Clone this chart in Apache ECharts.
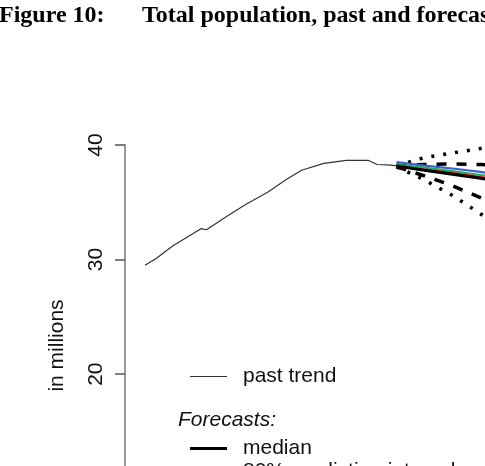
<!DOCTYPE html>
<html>
<head>
<meta charset="utf-8" />
<title>Total population, past and forecast</title>
<script src="https://cdn.jsdelivr.net/npm/echarts@6/dist/echarts.min.js"></script>
<style>
  html, body { margin: 0; padding: 0; background: #fff; }
  #main { width: 485px; height: 466px; }
</style>
</head>
<body>
<div id="main"></div>
<script type="text/javascript">
// past trend (millions)
var pastYears = [1960, 1962, 1965, 1967, 1970, 1971, 1975, 1978, 1982, 1985, 1988, 1992, 1996, 2000, 2001.5, 2004, 2005];
var pastValues = [29.5, 30.1, 31.2, 31.8, 32.7, 32.6, 33.9, 34.8, 35.9, 36.9, 37.8, 38.4, 38.65, 38.65, 38.3, 38.25, 38.17];

// forecasts
var fcYears = [2005, 2010, 2015, 2020, 2025];
var medianValues = [38.17, 37.8, 37.45, 37.1, 36.7];
var blueValues = [38.5, 38.2, 37.95, 37.65, 37.3];
var greenValues = [38.3, 38.02, 37.72, 37.38, 37.0];
var redValues = [38.1, 37.85, 37.55, 37.2, 36.8];
var pi80Upper = [38.2, 38.3, 38.35, 38.3, 38.2];
var pi80Lower = [38.1, 37.3, 36.45, 35.4, 34.2];
var pi95Upper = [38.2, 38.9, 39.3, 39.7, 40.0];
var pi95Lower = [38.1, 36.95, 35.6, 34.0, 32.3];

var yTicks = [10, 20, 30, 40];

function pairs(xs, ys) {
    return xs.map(function (x, i) { return [x, ys[i]]; });
}

var myChart = echarts.init(document.getElementById('main'));

function lineSeries(name, xs, ys, color, width, type) {
    return {
        name: name,
        type: 'line',
        data: pairs(xs, ys),
        symbol: 'none',
        clip: false,
        silent: true,
        lineStyle: { color: color, width: width, type: type || 'solid', cap: 'butt' },
        itemStyle: { color: color }
    };
}

var legendText = { fontFamily: 'Liberation Sans', fontSize: 21, color: '#111', padding: [0, 0, 0, 11] };

var option = {
    animation: false,
    backgroundColor: '#fff',
    title: [
        {
            text: 'Figure 10:',
            left: -1, top: 4, padding: 0,
            textStyle: { fontFamily: 'Liberation Serif', fontWeight: 'bold', fontSize: 24, color: '#000', lineHeight: 24 }
        },
        {
            text: 'Total population, past and forecast',
            left: 142, top: 4, padding: 0,
            textStyle: { fontFamily: 'Liberation Serif', fontWeight: 'bold', fontSize: 24, color: '#000', lineHeight: 24 }
        }
    ],
    grid: {
        left: 125,
        top: 145,
        right: -239,
        bottom: -80,
        outerBoundsMode: 'none',
        containLabel: false
    },
    xAxis: {
        type: 'value',
        min: 1956.42,
        max: 2063.58,
        show: false
    },
    yAxis: {
        type: 'value',
        min: 5,
        max: 40,
        name: 'in millions',
        nameLocation: 'middle',
        nameRotate: 90,
        nameGap: 57,
        nameTextStyle: { fontFamily: 'Liberation Sans', fontSize: 21, color: '#111' },
        axisLine: { show: true, lineStyle: { color: '#999', width: 2 } },
        axisTick: { show: true, length: 10, customValues: yTicks, lineStyle: { color: '#555', width: 1.5 } },
        axisLabel: {
            customValues: yTicks,
            rotate: 90,
            margin: 18,
            fontFamily: 'Liberation Sans',
            fontSize: 21,
            color: '#111'
        },
        splitLine: { show: false }
    },
    legend: [
        {
            data: [{ name: 'past trend', icon: 'rect' }],
            left: 190, top: 366, padding: 0,
            itemWidth: 37, itemHeight: 1.2,
            textStyle: legendText
        },
        {
            data: [{ name: 'median', icon: 'rect' }],
            left: 190, top: 438, padding: 0,
            itemWidth: 37, itemHeight: 3,
            textStyle: legendText
        },
        {
            data: [{ name: '80% prediction interval', icon: 'rect' }],
            left: 190, top: 461, padding: 0,
            itemWidth: 37, itemHeight: 3,
            textStyle: legendText
        }
    ],
    graphic: [
        {
            type: 'text',
            left: 178, top: 410,
            style: { text: 'Forecasts:', font: 'italic 21px "Liberation Sans"', fill: '#111' }
        }
    ],
    series: [
        lineSeries('past trend', pastYears, pastValues, '#333', 1.2),
        lineSeries('95% prediction interval', fcYears, pi95Upper, '#000', 3.5, [3, 9]),
        lineSeries('95% prediction interval', fcYears, pi95Lower, '#000', 3.5, [3, 9]),
        lineSeries('80% prediction interval', fcYears, pi80Upper, '#000', 3.5, [10, 10]),
        lineSeries('80% prediction interval', fcYears, pi80Lower, '#000', 3.5, [10, 10]),
        lineSeries('scenario blue', fcYears, blueValues, '#4060d0', 2.2),
        lineSeries('scenario green', fcYears, greenValues, '#20b060', 2.2),
        lineSeries('scenario red', fcYears, redValues, '#e00010', 2.2),
        lineSeries('median', fcYears, medianValues, '#000', 3)
    ]
};
myChart.setOption(option);
</script>
</body>
</html>
